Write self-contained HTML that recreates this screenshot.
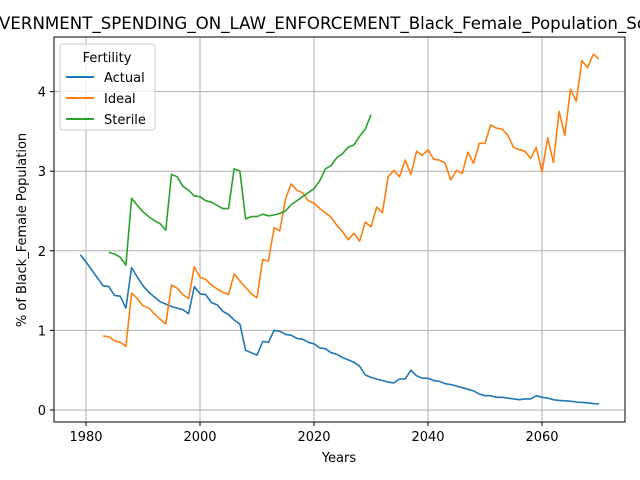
<!DOCTYPE html>
<html><head><meta charset="utf-8"><style>
body{margin:0;background:#fff}
svg{display:block;font-family:"DejaVu Sans","Liberation Sans",sans-serif}
</style></head><body>
<svg id="chart" width="640" height="480">
<rect width="640" height="480" fill="#fff"/>
<text x="-1" y="29" font-size="16.5" textLength="648" lengthAdjust="spacingAndGlyphs">VERNMENT_SPENDING_ON_LAW_ENFORCEMENT_Black_Female_Population_So</text>
<g id="grid"></g>
<g id="series"></g>
<rect x="54" y="37" width="571" height="385" fill="none" stroke="#000" stroke-width="1"/>
<g id="ticks"></g>
<text x="339" y="462" font-size="13" text-anchor="middle">Years</text>
<text transform="translate(26,230) rotate(-90)" font-size="13" text-anchor="middle">% of Black_Female Population</text>
<g>
<rect x="60" y="44" width="95" height="86" rx="3" fill="#fff" fill-opacity="0.8" stroke="#ccc"/>
<text x="107" y="62" font-size="13" text-anchor="middle">Fertility</text>
<line x1="66" y1="77" x2="94" y2="77" stroke="#1f77b4" stroke-width="2"/>
<text x="104" y="82" font-size="13">Actual</text>
<line x1="66" y1="98" x2="94" y2="98" stroke="#ff7f0e" stroke-width="2"/>
<text x="104" y="103" font-size="13">Ideal</text>
<line x1="66" y1="119" x2="94" y2="119" stroke="#2ca02c" stroke-width="2"/>
<text x="104" y="124" font-size="13">Sterile</text>
</g>
</svg>
<script>
const actualStart = 1979;
const actualValues = [1.95,1.86,1.76,1.66,1.56,1.55,1.44,1.43,1.28,1.79,1.67,1.56,1.48,1.42,1.36,1.33,1.30,1.28,1.26,1.21,1.55,1.46,1.45,1.35,1.32,1.24,1.20,1.13,1.08,0.75,0.72,0.69,0.86,0.85,1.00,0.99,0.95,0.94,0.90,0.89,0.85,0.83,0.78,0.77,0.72,0.70,0.66,0.63,0.60,0.55,0.44,0.41,0.39,0.37,0.35,0.34,0.39,0.39,0.50,0.43,0.40,0.40,0.37,0.36,0.33,0.32,0.30,0.28,0.26,0.24,0.20,0.18,0.18,0.16,0.16,0.15,0.14,0.13,0.14,0.14,0.18,0.16,0.15,0.13,0.12,0.115,0.11,0.10,0.095,0.09,0.08,0.075];
const idealStart = 1983;
const idealValues = [0.93,0.92,0.87,0.85,0.80,1.47,1.40,1.31,1.28,1.21,1.14,1.08,1.57,1.53,1.45,1.40,1.80,1.67,1.64,1.57,1.52,1.48,1.45,1.71,1.62,1.54,1.46,1.41,1.89,1.87,2.29,2.25,2.65,2.84,2.76,2.73,2.63,2.60,2.53,2.48,2.42,2.32,2.24,2.14,2.22,2.12,2.36,2.30,2.55,2.48,2.93,3.01,2.93,3.14,2.96,3.25,3.20,3.27,3.15,3.14,3.10,2.89,3.01,2.97,3.24,3.10,3.35,3.35,3.58,3.54,3.53,3.45,3.30,3.27,3.25,3.16,3.30,2.99,3.42,3.11,3.75,3.45,4.03,3.88,4.39,4.30,4.47,4.41];
const sterileStart = 1984;
const sterileValues = [1.98,1.96,1.92,1.82,2.66,2.57,2.49,2.43,2.38,2.34,2.26,2.96,2.93,2.81,2.76,2.69,2.68,2.63,2.61,2.57,2.53,2.53,3.03,3.00,2.40,2.43,2.43,2.46,2.44,2.45,2.47,2.50,2.58,2.63,2.68,2.73,2.78,2.88,3.03,3.07,3.17,3.22,3.30,3.33,3.44,3.53,3.71];
const xTicks = [1980,2000,2020,2040,2060];
const yTicks = [0,1,2,3,4];

const NS = "http://www.w3.org/2000/svg";
const X = yr => 86 + (yr - 1980) * 5.7;
const Y = v => 410 - v * 79.6;
const grid = document.getElementById('grid'), ticks = document.getElementById('ticks'), series = document.getElementById('series');
function mk(tag, attrs, parent){const e=document.createElementNS(NS,tag);for(const k in attrs)e.setAttribute(k,attrs[k]);parent.appendChild(e);return e;}
xTicks.forEach(t=>{
  const g=mk('line',{x1:X(t),x2:X(t),y1:37,y2:422,stroke:'#b0b0b0','stroke-width':1},grid);
  
  
  const tk=mk('line',{x1:X(t),x2:X(t),y1:422,y2:426,stroke:'#000'},ticks);
  
  
  const l=mk('text',{x:X(t),y:441,'font-size':13,'text-anchor':'middle'},ticks);l.textContent=t;
  
  
});
yTicks.forEach(t=>{
  const g=mk('line',{x1:54,x2:625,y1:Y(t),y2:Y(t),stroke:'#b0b0b0','stroke-width':1},grid);
  
  
  const tk=mk('line',{x1:50,x2:54,y1:Y(t),y2:Y(t),stroke:'#000'},ticks);
  
  
  const l=mk('text',{x:46,y:Y(t)+5,'font-size':13,'text-anchor':'end'},ticks);l.textContent=t;
  
  
});
function draw(start, vals, color, name){
  const d=vals.map((v,i)=>(i?'L':'M')+X(start+i).toFixed(1)+','+Y(v).toFixed(1)).join('');
  const p=mk('path',{d:d,fill:'none',stroke:color,'stroke-width':1.6,'stroke-linejoin':'round'},series);
  
  
}
draw(actualStart, actualValues, '#1f77b4', 'actual-line');
draw(idealStart, idealValues, '#ff7f0e', 'ideal-line');
draw(sterileStart, sterileValues, '#2ca02c', 'sterile-line');
</script>
</body></html>
